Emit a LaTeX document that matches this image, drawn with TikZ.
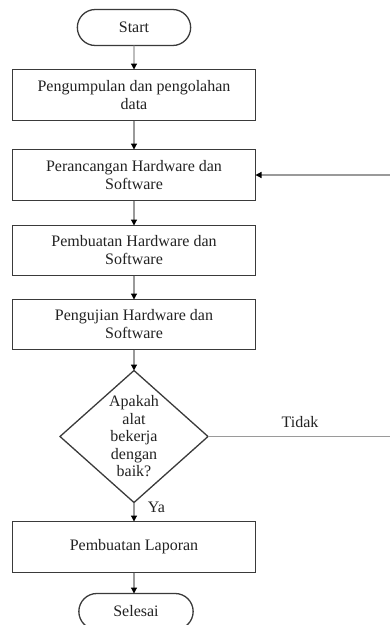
\documentclass[tikz,border=0pt]{standalone}
\usepackage{fontspec}
\setmainfont{Liberation Serif}
\usepackage{xcolor}
\definecolor{colBorder}{HTML}{3A3A3A}
\definecolor{colLine}{HTML}{9A9A9A}
\definecolor{colText}{HTML}{222222}
\usepackage{tikz}
\usetikzlibrary{arrows.meta, positioning, shapes.geometric, shapes.misc}

\begin{document}
\begin{tikzpicture}[x=1pt, y=1pt, font=\fontsize{16}{18}\selectfont, text=colText,
    proses/.style={rectangle, draw=colBorder, line width=1.3pt, outer sep=0pt,
                   minimum width=243pt, minimum height=51pt, align=center, inner sep=2pt},
    terminal/.style={rounded rectangle, draw=colBorder, line width=1.3pt, outer sep=0pt,
                     minimum width=120pt, minimum height=36pt},
    keputusan/.style={diamond, draw=colBorder, line width=1.3pt, outer sep=0pt,
                      minimum width=148pt, minimum height=132pt, inner sep=0pt},
    alur/.style={draw=colLine, line width=1.2pt, -{Triangle[black, width=6pt, length=6pt]}}]
    \useasboundingbox (0,0) rectangle (390,-625);
    \clip (0,0) rectangle (390,-625);
    % Mulai
    \node[terminal] (mulai) at (134,-27.5) {Start};
    % Tahapan
    \node[proses, below=24pt of mulai] (data) {Pengumpulan dan pengolahan\\data};
    \node[proses, below=29pt of data] (rancang) {Perancangan Hardware dan\\Software};
    \node[proses, below=25pt of rancang, minimum height=50pt] (buat) {Pembuatan Hardware dan\\Software};
    \node[proses, below=24pt of buat, minimum height=50pt] (uji) {Pengujian Hardware dan\\Software};
    % Keputusan
    \node[keputusan, below=21pt of uji,
          label={[align=center, font=\fontsize{16}{17.5}\selectfont]center:Apakah\\alat\\bekerja\\dengan\\baik?}] (cek) {};
    \node[proses, below=19pt of cek] (laporan) {Pembuatan Laporan};
    % Selesai
    \node[terminal, below=21pt of laporan, xshift=2pt, minimum width=121pt] (selesai) {Selesai};
    % Panah
    \draw[alur] (mulai) -- (data);
    \draw[alur] (data) -- (rancang);
    \draw[alur] (rancang) -- (buat);
    \draw[alur] (buat) -- (uji);
    \draw[alur] (uji) -- (cek);
    \draw[alur] (cek.south) -- node[pos=0.25, right=10pt] {Ya} (laporan);
    \draw[alur] (laporan) -- (laporan |- selesai.north);
    % Kembali ke perancangan
    \coordinate (balik) at (392,0);
    \draw[alur] (cek.east) -- node[above=5pt] {Tidak} (cek.east -| balik)
          |- (rancang.east);
\end{tikzpicture}
\end{document}
